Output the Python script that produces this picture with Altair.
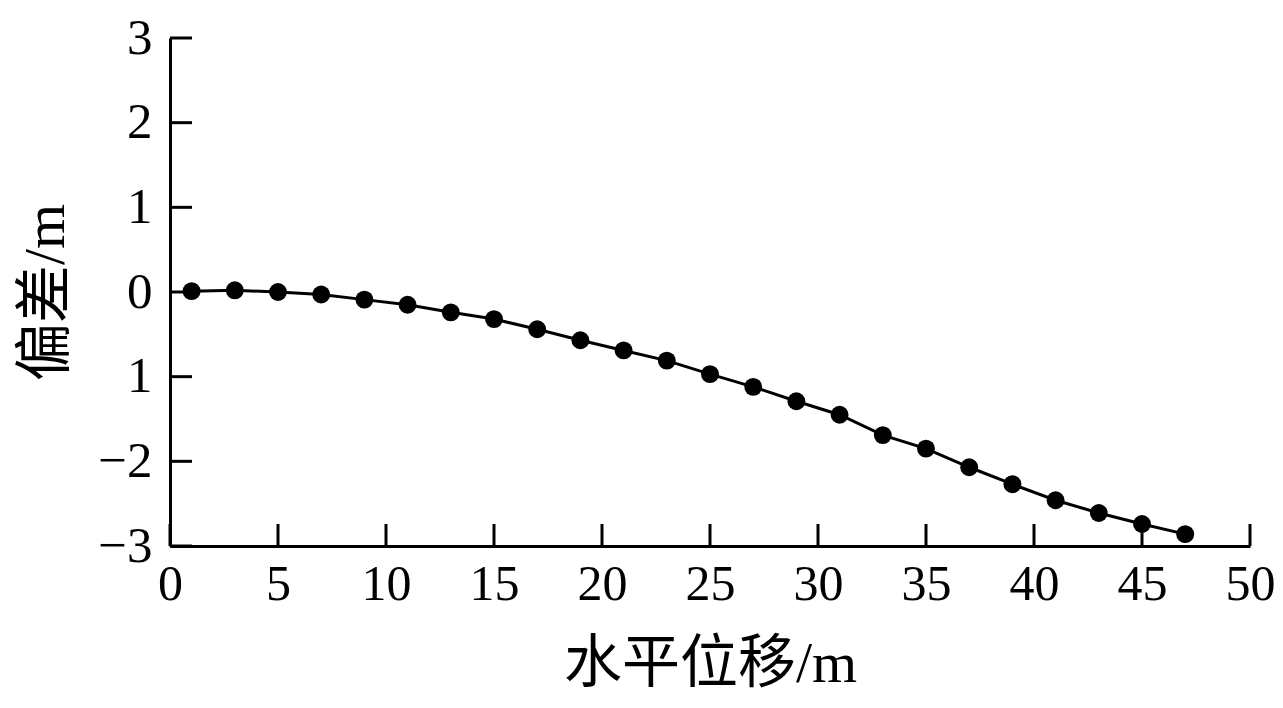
import altair as alt
import pandas as pd

# data
x_vals = [1, 3, 5, 7, 9, 11, 13, 15, 17, 19, 21, 23, 25, 27, 29, 31, 33, 35, 37, 39, 41, 43, 45, 47]
y_vals = [0.01, 0.02, 0.0, -0.03, -0.09, -0.15, -0.24, -0.32, -0.44, -0.57, -0.69, -0.81,
          -0.97, -1.12, -1.29, -1.45, -1.69, -1.85, -2.07, -2.27, -2.46, -2.61, -2.74, -2.86]
x_ticks = [0, 5, 10, 15, 20, 25, 30, 35, 40, 45, 50]
y_ticks = [-3, -2, -1, 0, 1, 2, 3]
y_tick_labels = ["\u22123", "\u22122", "1", "0", "1", "2", "3"]
x_title = "水平位移/m"
y_title = "偏差/m"

df = pd.DataFrame({"x": x_vals, "y": y_vals})
xt = pd.DataFrame({"x": x_ticks})
yt = pd.DataFrame({"y": y_ticks})

font = "Liberation Serif, Times New Roman, Noto Sans CJK SC"
label_expr = " : ".join(
    f"datum.value == {v} ? '{l}'" for v, l in zip(y_ticks, y_tick_labels)
) + " : ''"

xscale = alt.Scale(domain=[0, 50], nice=False, zero=False)
yscale = alt.Scale(domain=[-3, 3], nice=False, zero=False)

xaxis = alt.Axis(values=x_ticks, ticks=False, grid=False, domainColor="black",
                 domainWidth=3, labelFont=font, labelFontSize=50, labelColor="black",
                 labelPadding=13, labelFlush=False, labelOverlap=False,
                 title=x_title, titleFont=font, titleFontSize=58, titleFontWeight="normal",
                 titleColor="black", titlePadding=26)
yaxis = alt.Axis(values=y_ticks, ticks=False, grid=False, domainColor="black",
                 domainWidth=3, labelFont=font, labelFontSize=51, labelColor="black",
                 labelPadding=18, labelExpr=label_expr, labelFlush=False, labelOverlap=False,
                 title=y_title, titleFont=font, titleFontSize=58, titleFontWeight="normal",
                 titleColor="black", titlePadding=22)

line = alt.Chart(df).mark_line(color="black", strokeWidth=3).encode(
    x=alt.X("x:Q", scale=xscale, axis=xaxis),
    y=alt.Y("y:Q", scale=yscale, axis=yaxis),
)
pts = alt.Chart(df).mark_circle(color="black", opacity=1, size=320).encode(
    x=alt.X("x:Q", scale=xscale),
    y=alt.Y("y:Q", scale=yscale),
)
xtick_rules = alt.Chart(xt).mark_rule(color="black", strokeWidth=3).encode(
    x=alt.X("x:Q", scale=xscale),
    y=alt.value(508),
    y2=alt.value(486),
)
ytick_rules = alt.Chart(yt).mark_rule(color="black", strokeWidth=3).encode(
    y=alt.Y("y:Q", scale=yscale),
    x=alt.value(0),
    x2=alt.value(22),
)

chart = alt.layer(line, xtick_rules, ytick_rules, pts).properties(
    width=1080, height=508,
    background="white",
    autosize=alt.AutoSizeParams(type="none"),
    padding={"left": 162, "top": 30, "right": 25, "bottom": 154},
).configure_view(strokeWidth=0, stroke="transparent")

chart.save("out.html", embed_options={"renderer": "svg", "actions": False})
